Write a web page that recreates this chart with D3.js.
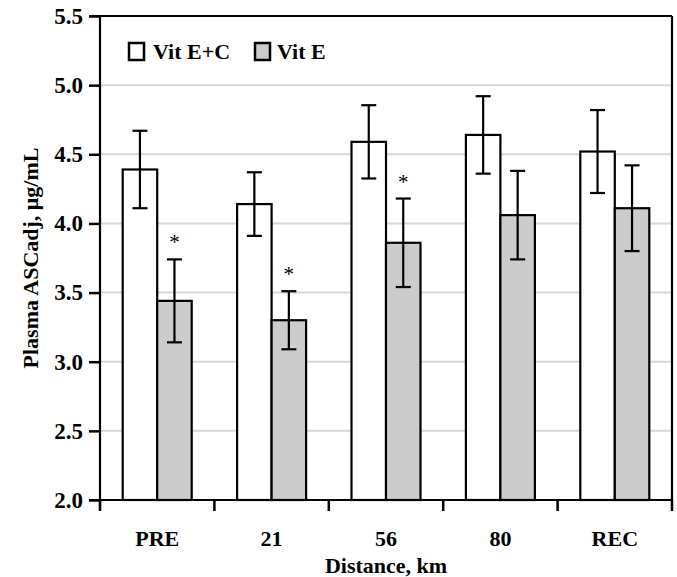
<!DOCTYPE html>
<html><head><meta charset="utf-8">
<script src="https://cdn.jsdelivr.net/npm/d3@7"></script>
<style>body{margin:0;background:#fff}svg{display:block}text{font-family:"Liberation Serif","Times New Roman",serif;font-weight:bold;fill:#000}</style>
</head><body>
<svg id="c" width="677" height="577"></svg>
<script>
const categories = ["PRE","21","56","80","REC"];
const seriesNames = ["Vit E+C","Vit E"];
const vitEC = [4.39, 4.14, 4.59, 4.64, 4.52];
const vitECErr = [0.28, 0.23, 0.265, 0.28, 0.30];
const vitE = [3.44, 3.30, 3.86, 4.06, 4.11];
const vitEErr = [0.30, 0.21, 0.32, 0.32, 0.31];
const significant = [true, true, true, false, false];
const yTicks = [2.0, 2.5, 3.0, 3.5, 4.0, 4.5, 5.0, 5.5];
const fills = ["#ffffff", "#cccccc"];

const svg = d3.select("#c");
const L = 100, R = 672, T = 16, B = 500;
const x0 = d3.scaleBand().domain(categories).range([L, R]);
const xs = d3.scaleBand().domain(seriesNames).range([0, 69]);
const y = d3.scaleLinear().domain([2, 5.5]).range([B, T]);

// gridlines
svg.append("g").selectAll("line").data(yTicks.filter(v => v > 2 && v < 5.5)).join("line")
  .attr("x1", L).attr("x2", R).attr("y1", d => y(d)).attr("y2", d => y(d))
  .attr("stroke", "#d6d6d6").attr("stroke-width", 2);

const data = [vitEC, vitE], errs = [vitECErr, vitEErr];
categories.forEach((c, i) => {
  const cx = x0(c) + x0.bandwidth() / 2 - 34.5;
  seriesNames.forEach((s, k) => {
    const v = data[k][i], e = errs[k][i];
    const bx = cx + xs(s), bw = xs.bandwidth();
    svg.append("rect").attr("x", bx).attr("y", y(v)).attr("width", bw).attr("height", y(2) - y(v))
      .attr("fill", fills[k]).attr("stroke", "#000").attr("stroke-width", 2.2);
    const mx = bx + bw / 2;
    const g = svg.append("g").attr("stroke", "#000").attr("stroke-width", 2.2);
    g.append("line").attr("x1", mx).attr("x2", mx).attr("y1", y(v + e)).attr("y2", y(v - e));
    g.append("line").attr("x1", mx - 7.5).attr("x2", mx + 7.5).attr("y1", y(v + e)).attr("y2", y(v + e));
    g.append("line").attr("x1", mx - 7.5).attr("x2", mx + 7.5).attr("y1", y(v - e)).attr("y2", y(v - e));
    if (k === 1 && significant[i]) {
      svg.append("text").attr("x", mx).attr("y", y(v + e) - 10).attr("text-anchor", "middle")
        .style("font-size", "21px").style("font-weight", "normal").text("*");
    }
  });
});

// frame
svg.append("line").attr("x1", 89).attr("x2", R).attr("y1", T).attr("y2", T).attr("stroke", "#000").attr("stroke-width", 2.2);
svg.append("line").attr("x1", R).attr("x2", R).attr("y1", T).attr("y2", B).attr("stroke", "#000").attr("stroke-width", 2.2);

// y axis
const ya = svg.append("g").attr("transform", `translate(${L},0)`)
  .call(d3.axisLeft(y).tickValues(yTicks).tickFormat(d3.format(".1f")).tickSize(11).tickPadding(6));
ya.select(".domain").attr("stroke-width", 2.2).attr("d", `M0,${T}V${B + 10}`);
ya.selectAll(".tick line").attr("stroke-width", 2.5);
ya.selectAll("text").style("font-size", "23px").attr("font-family", null);

// x axis
const xa = svg.append("g").attr("transform", `translate(0,${B})`)
  .call(d3.axisBottom(x0).tickSize(0).tickPadding(30));
xa.select(".domain").attr("stroke-width", 2.2).attr("d", `M${L - 11},0H${R}`);
xa.selectAll("text").style("font-size", "22px").attr("font-family", null);
svg.append("g").selectAll("line").data(categories.concat(["end"])).join("line")
  .attr("x1", (d, i) => L + i * x0.step()).attr("x2", (d, i) => L + i * x0.step())
  .attr("y1", B).attr("y2", B + 11).attr("stroke", "#000").attr("stroke-width", 2.5);

// titles
svg.append("text").attr("x", (L + R) / 2).attr("y", 573).attr("text-anchor", "middle")
  .style("font-size", "22px").text("Distance, km");
svg.append("text").attr("transform", `translate(38,${(T + B) / 2}) rotate(-90)`).attr("text-anchor", "middle")
  .style("font-size", "22px").text("Plasma ASCadj, μg/mL");

// legend
const leg = [[128, 153], [254, 277]];
seriesNames.forEach((s, k) => {
  svg.append("rect").attr("x", leg[k][0] + 1).attr("y", 43).attr("width", 15).attr("height", 17)
    .attr("fill", fills[k]).attr("stroke", "#000").attr("stroke-width", 2.5);
  svg.append("text").attr("x", leg[k][1]).attr("y", 59).style("font-size", "22px").text(s);
});
</script>
</body></html>
